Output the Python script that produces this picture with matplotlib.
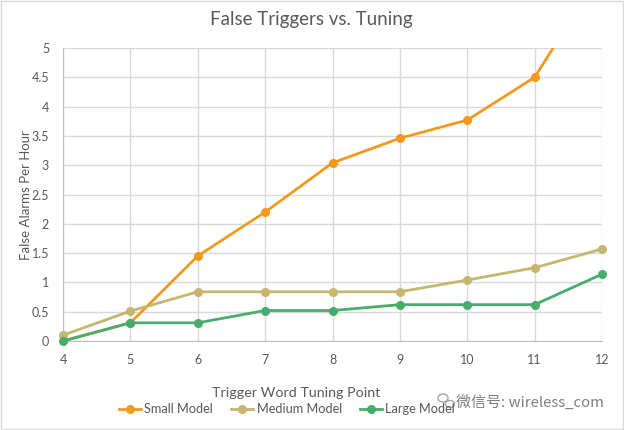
import matplotlib
matplotlib.use("Agg")
import matplotlib.pyplot as plt
from matplotlib.patches import Rectangle, Ellipse

# Data
tuning = [4, 5, 6, 7, 8, 9, 10, 11, 12]
small = [0.0, 0.31, 1.45, 2.20, 3.04, 3.46, 3.77, 4.50, 6.32]
medium = [0.10, 0.51, 0.84, 0.84, 0.84, 0.84, 1.04, 1.25, 1.57]
large = [0.0, 0.31, 0.31, 0.52, 0.52, 0.62, 0.62, 0.62, 1.14]
yticks = [0, 0.5, 1, 1.5, 2, 2.5, 3, 3.5, 4, 4.5, 5]
ytick_labels = ["0", "0.5", "1", "1.5", "2", "2.5", "3", "3.5", "4", "4.5", "5"]

plt.rcParams['font.family'] = ['Lato', 'DejaVu Sans']
txt = '#595959'
W, H = 624, 430

fig = plt.figure(figsize=(6.24, 4.30), dpi=100)
ax = fig.add_axes([63/W, 1 - 341/H, (602-63)/W, (341-48)/H])

ax.plot(tuning, small, color='#F39A1E', lw=2, marker='o', ms=5.5, label='Small Model', clip_on=True, zorder=3)
ax.plot(tuning, medium, color='#C6B66F', lw=2, marker='o', ms=5.5, label='Medium Model', clip_on=False, zorder=3)
ax.plot(tuning, large, color='#48AD6C', lw=2, marker='o', ms=5.5, label='Large Model', clip_on=False, zorder=4)

ax.set_xlim(4, 12)
ax.set_ylim(0, 5)
ax.set_xticks(tuning)
ax.set_yticks(yticks)
ax.set_yticklabels(ytick_labels)
ax.grid(True, color='#D9D9D9', lw=1)
ax.set_axisbelow(True)
for s in ['top', 'right']:
    ax.spines[s].set_visible(False)
for s in ['left', 'bottom']:
    ax.spines[s].set_color('#BFBFBF')
ax.tick_params(length=0, colors=txt, labelsize=9)
ax.tick_params(axis='x', pad=9)
ax.tick_params(axis='y', pad=10)

fig.text(296/W, 1 - 393/H, 'Trigger Word Tuning Point', ha='center', va='center',
         color=txt, fontsize=10.3)
fig.text(26/W, 1 - 195/H, 'False Alarms Per Hour', ha='center', va='center',
         rotation=90, color=txt, fontsize=9.5)
fig.text(311/W, 1 - 20/H, 'False Triggers vs. Tuning', ha='center', va='center',
         fontsize=13.5, color=txt)

fig.legend(loc='center', bbox_to_anchor=(287/W, 1 - 409/H), ncol=3, frameon=False,
           fontsize=9.2, labelcolor=txt, handlelength=1.75, columnspacing=1.4,
           handletextpad=0.25)

# outer chart border
fig.patches.append(Rectangle((0.002, 0.002), 0.996, 0.996, transform=fig.transFigure,
                             fill=False, edgecolor='#D9D9D9', lw=1))

# watermark with a small chat-bubble logo
fig.patches.append(Ellipse((443/W, 1 - 398/H), 10/W, 8/H, transform=fig.transFigure,
                           fill=False, edgecolor='#A6A6A6', lw=1))
fig.patches.append(Ellipse((450/W, 1 - 404/H), 9/W, 7/H, transform=fig.transFigure,
                           fill=False, edgecolor='#A6A6A6', lw=1))
fig.text(456/W, 1 - 402/H, '微信号: wireless_com', ha='left', va='center',
         fontsize=10.8, color='#7F7F7F', family=['Noto Sans CJK SC', 'DejaVu Sans'])

fig.savefig('out.png', dpi=100)
